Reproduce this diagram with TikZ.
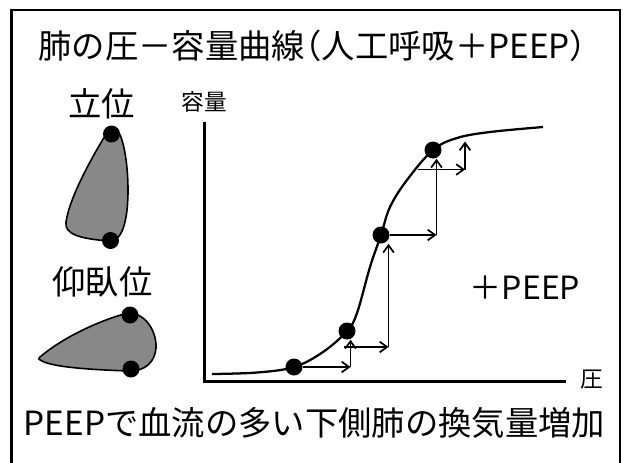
\documentclass[tikz,border=0pt]{standalone}
\usepackage{fontspec}
\setmainfont{Noto Sans CJK JP}
\newfontfamily\halffont[RawFeature=+halt]{Noto Sans CJK JP}
\usetikzlibrary{arrows.meta}

\begin{document}
\begin{tikzpicture}[x=0.75pt,y=0.75pt,yscale=-1,xscale=1,
    dot/.style={circle,fill=black,inner sep=0pt,minimum size=12.75pt},
    lung/.style={draw=black,line width=1.2pt,fill={rgb, 255:red, 136; green, 136; blue, 136}},
    peep/.style={line width=1.3pt,-{Straight Barb[length=5.5pt,width=8pt]}},
    big/.style={font=\fontsize{25}{30}\selectfont,inner sep=0.75pt},
    small/.style={font=\fontsize{17}{20}\selectfont,inner sep=0.75pt}]
    \fill[white] (0,0) rectangle (624,462);
    \useasboundingbox (0,0) rectangle (624,462);

    %Shape: Rectangle [frame]
    \draw [line width=1.7pt] (11.5,10) rectangle (620,480);

    %Shape: Lung, upright
    \draw [lung] (108,131) .. controls (95,152) and (70,195) .. (66,222) .. controls (64,234) and (80,239) .. (110,241) .. controls (124,241) and (128,215) .. (128,190) .. controls (128,165) and (124,140) .. (118,131) .. controls (115,127) and (111,127) .. (108,131) -- cycle ;
    \node [dot] (uptop) at (111.5,134) {};
    \node [dot] (upbot) at (110.5,240.5) {};
    %Shape: Lung, supine
    \draw [lung] (40,357) .. controls (62,338) and (100,320) .. (128,313) .. controls (148,313) and (157,335) .. (156,348) .. controls (155,362) and (145,371) .. (130,371) .. controls (100,370) and (55,368) .. (42,361) .. controls (38,359) and (38,358) .. (40,357) -- cycle ;
    \node [dot] (suptop) at (130,315) {};
    \node [dot] (supbot) at (131,369) {};

    %Shape: Axis 2D
    \draw [line width=1.6pt] (204.5,121.5) -- (204.5,381.5) -- (566,381.5) ;
    %Curve Lines [pressure-volume]
    \draw [line width=1.7pt] plot [smooth,tension=0.6] coordinates {(212,374) (257,372.5) (294,367) (323,352) (347,331) (357,313) (370,267) (381,235) (390,207) (407,180) (433,150) (457,138) (490,132) (543,127)} ;
    \node [dot] (d1) at (294,367) {};
    \node [dot] (d2) at (347,331) {};
    \node [dot] (d3) at (381,235) {};
    \node [dot] (d4) at (433,150) {};

    %Straight Lines [PEEP steps]
    \coordinate (c1) at (350.5,367) ;
    \coordinate (c2s) at (344,347) ;
    \coordinate (c2) at (388.5,347) ;
    \coordinate (c3) at (436.5,235) ;
    \coordinate (c4s) at (417.5,169.5) ;
    \coordinate (c4) at (465,169.5) ;
    \coordinate (c4e) at (465,141.5) ;
    \draw [peep] (d1) -- (c1) ;
    \draw [peep] (c1) -- (c1 |- d2.south) ;
    \draw [peep] (c2s) -- (c2) ;
    \draw [peep] (c2) -- (c2 |- d3.south) ;
    \draw [peep] (d3) -- (c3) ;
    \draw [peep] (c3) -- (c3 |- d4.south) ;
    \draw [peep] (c4s) -- (c4) ;
    \draw [peep] (c4) -- (c4e) ;

    % Text Node
    \node [big] (title) at (312.5,46) {肺の圧－容量曲線{\halffont （}人工呼吸＋PEEP{\halffont ）}};
    % Text Node
    \node [big] (upright) at (101.5,104) {立位};
    % Text Node
    \node [big] (supine) at (102.5,282) {仰臥位};
    % Text Node
    \node [small] (vol) at (204,102) {容量};
    % Text Node
    \node [small] (pres) at (591.5,380) {圧};
    % Text Node
    \node [big,font=\fontsize{24}{29}\selectfont] (plus) at (525,287.5) {＋PEEP};
    % Text Node
    \node [big] (note) at (314.5,423) {PEEPで血流の多い下側肺の換気量増加};

\end{tikzpicture}
\end{document}
